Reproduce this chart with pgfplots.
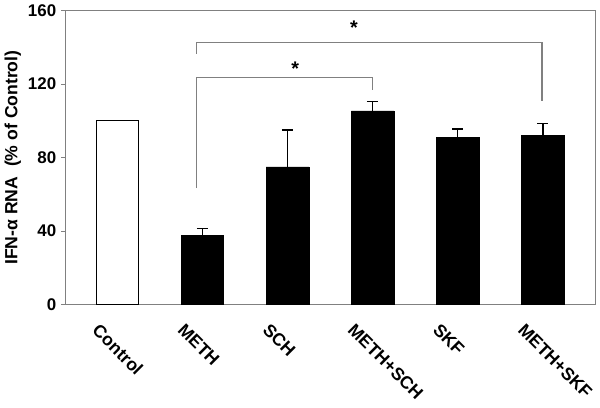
\documentclass[border=0pt]{standalone}
\usepackage{fontspec}
\setmainfont{Liberation Sans}
\usepackage{pgfplots}
\pgfplotsset{compat=1.18}
\begin{document}
\begin{tikzpicture}
\begin{axis}[
  scale only axis,
  width=13.22cm, height=7.33cm,
  xmin=-0.61, xmax=5.62,
  ymin=0, ymax=160,
  ytick={0,40,80,120,160},
  xtick={0,1,2,3,4,5},
  xticklabels={Control,METH,SCH,METH+SCH,SKF,METH+SKF},
  x tick label style={rotate=-45, anchor=north west, font=\bfseries\fontsize{12.5}{14}\selectfont, xshift=-5pt, yshift=-12pt},
  y tick label style={font=\bfseries\fontsize{12}{14}\selectfont},
  /pgf/number format/assume math mode=true,
  ylabel={\bfseries IFN-α RNA\ \ (\% of Control)},
  ylabel style={font=\fontsize{12.5}{14}\selectfont, yshift=-2pt},
  axis line style={gray, line width=0.8pt},
  xtick style={draw=none},
  ytick pos=left, tick align=outside,
  ytick style={gray, line width=0.8pt},
  major tick length=3pt,
  ybar, bar width=0.5,
  clip=false,
]
\addplot[fill=white, draw=black, line width=0.6pt, bar shift=0pt] coordinates {(0,100)};
\addplot[fill=black, draw=black, bar shift=0pt,
  error bars/.cd, y dir=plus, y explicit,
  error bar style={line width=1pt},
  error mark options={rotate=90, mark size=4pt, line width=1pt}]
  coordinates {
  (1,37.7) +- (0,3.8)
  (2,75) +- (0,20)
  (3,105.5) +- (0,5)
  (4,91) +- (0,4.6)
  (5,92) +- (0,6.6)
};
% significance brackets
\draw[gray, line width=0.8pt] (axis cs:0.93,136.6) -- (axis cs:0.93,142.6) -- (axis cs:4.99,142.6) -- (axis cs:4.99,111);
\draw[gray, line width=0.8pt] (axis cs:0.93,63.4) -- (axis cs:0.93,123.5) -- (axis cs:3.0,123.5) -- (axis cs:3.0,117);
\node[font=\bfseries\fontsize{14}{14}\selectfont] at (axis cs:2.09,128.5) {*};
\node[font=\bfseries\fontsize{14}{14}\selectfont] at (axis cs:2.78,150.5) {*};
\end{axis}
\end{tikzpicture}
\end{document}
